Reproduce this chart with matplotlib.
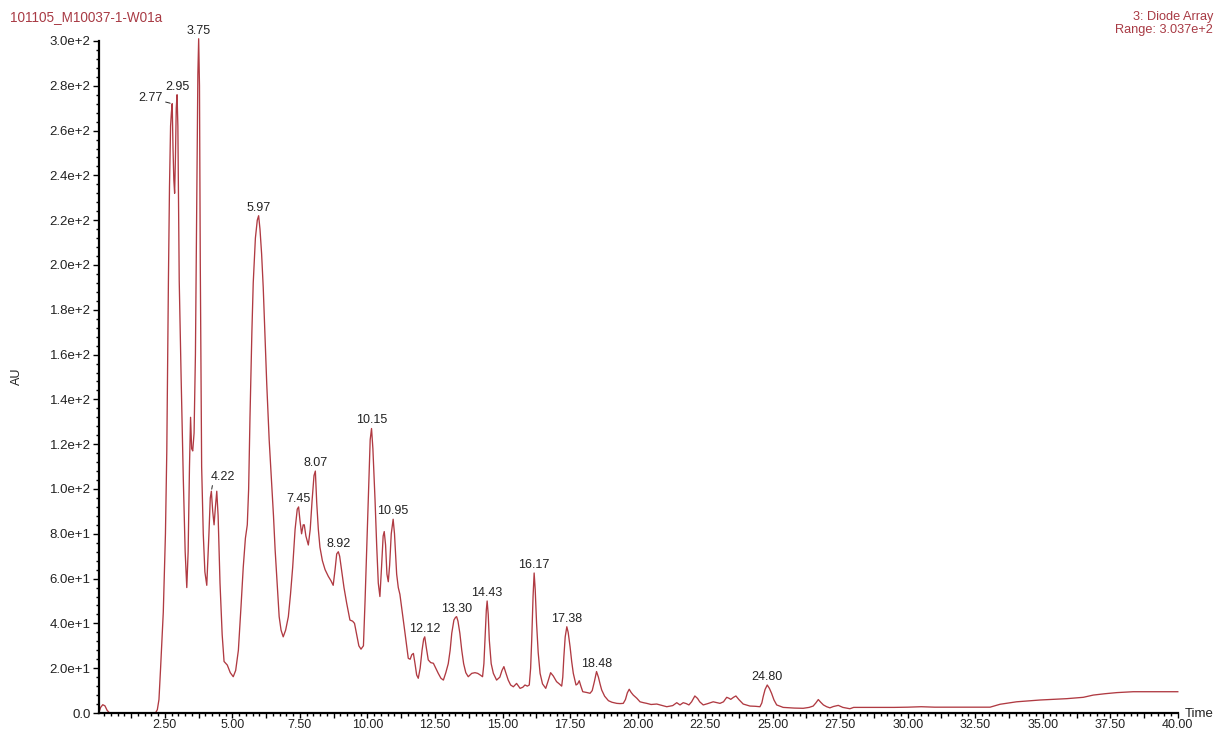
import numpy as np
import matplotlib
matplotlib.use("Agg")
import matplotlib.pyplot as plt
from matplotlib.ticker import MultipleLocator, FuncFormatter

# Chromatogram trace: retention time (min) and detector response (AU)
time_min = [
    0.06, 0.12, 0.20, 0.28, 0.36, 0.45, 1.00, 2.15, 2.22, 2.28, 2.34, 2.40, 2.44, 2.52, 2.57,
    2.63, 2.67, 2.71, 2.74, 2.77, 2.80, 2.83, 2.86, 2.89, 2.92, 2.95, 2.98, 3.03, 3.10, 3.18,
    3.25, 3.31, 3.36, 3.41, 3.45, 3.49, 3.53, 3.58, 3.63, 3.68, 3.72, 3.75, 3.78, 3.81, 3.86,
    3.92, 3.98, 4.05, 4.13, 4.18, 4.22, 4.27, 4.32, 4.37, 4.42, 4.47, 4.54, 4.62, 4.69, 4.81,
    4.92, 5.03, 5.12, 5.22, 5.32, 5.40, 5.48, 5.55, 5.60, 5.65, 5.72, 5.77, 5.85, 5.92, 5.97,
    6.02, 6.08, 6.14, 6.20, 6.27, 6.36, 6.45, 6.52, 6.58, 6.66, 6.73, 6.80, 6.88, 6.97, 7.07,
    7.15, 7.23, 7.32, 7.40, 7.45, 7.50, 7.56, 7.62, 7.66, 7.72, 7.81, 7.88, 7.95, 8.02, 8.07,
    8.12, 8.18, 8.24, 8.33, 8.43, 8.55, 8.65, 8.73, 8.80, 8.86, 8.92, 8.97, 9.04, 9.13, 9.23,
    9.35, 9.45, 9.52, 9.60, 9.68, 9.76, 9.85, 9.91, 9.97, 10.04, 10.10, 10.15, 10.20, 10.28, 10.34,
    10.40, 10.46, 10.52, 10.58, 10.62, 10.67, 10.72, 10.77, 10.82, 10.88, 10.95, 11.00, 11.08, 11.14, 11.20,
    11.30, 11.39, 11.51, 11.58, 11.64, 11.70, 11.76, 11.82, 11.88, 11.95, 12.02, 12.08, 12.12, 12.18, 12.25,
    12.34, 12.44, 12.53, 12.62, 12.72, 12.81, 12.90, 12.99, 13.06, 13.12, 13.20, 13.26, 13.30, 13.35, 13.42,
    13.49, 13.56, 13.64, 13.73, 13.80, 13.86, 13.98, 14.08, 14.17, 14.26, 14.31, 14.35, 14.40, 14.43, 14.47,
    14.51, 14.58, 14.66, 14.78, 14.90, 14.98, 15.05, 15.12, 15.21, 15.30, 15.40, 15.52, 15.65, 15.75, 15.83,
    15.92, 15.99, 16.04, 16.08, 16.13, 16.17, 16.21, 16.26, 16.32, 16.39, 16.48, 16.60, 16.68, 16.78, 16.88,
    17.00, 17.10, 17.19, 17.23, 17.27, 17.32, 17.38, 17.43, 17.50, 17.56, 17.62, 17.72, 17.78, 17.84, 17.90,
    17.97, 18.10, 18.24, 18.32, 18.40, 18.48, 18.55, 18.61, 18.67, 18.78, 18.92, 19.05, 19.23, 19.35, 19.47,
    19.55, 19.62, 19.69, 19.76, 19.84, 19.97, 20.09, 20.22, 20.34, 20.50, 20.71, 20.90, 21.08, 21.30, 21.45,
    21.57, 21.69, 21.80, 21.90, 22.00, 22.12, 22.22, 22.30, 22.43, 22.60, 22.80, 23.05, 23.18, 23.30, 23.38,
    23.45, 23.55, 23.64, 23.75, 23.91, 24.16, 24.35, 24.53, 24.60, 24.65, 24.72, 24.80, 24.88, 24.96, 25.05,
    25.15, 25.39, 25.80, 26.13, 26.35, 26.50, 26.60, 26.69, 26.78, 26.88, 27.00, 27.12, 27.25, 27.43, 27.60,
    27.86, 28.00, 29.00, 29.50, 30.00, 30.50, 31.00, 32.00, 33.05, 33.42, 34.03, 34.90, 35.89, 36.50, 36.87,
    37.30, 37.74, 38.35, 39.00, 40.00,
]
response_au = [
    0.3, 2.5, 3.7, 3.2, 1.2, 0.0, 0.0, 0.0, 1.5, 6.0, 20.0, 35.0, 45.0, 80.0, 117.0,
    193.0, 235.0, 262.0, 268.0, 272.0, 252.0, 238.0, 232.0, 248.0, 270.0, 276.0, 262.0, 193.0, 150.0, 105.0,
    72.0, 56.0, 72.0, 110.0, 132.0, 118.0, 117.0, 125.0, 160.0, 230.0, 285.0, 301.0, 280.0, 200.0, 110.0,
    80.0, 63.0, 57.0, 80.0, 96.0, 99.0, 90.0, 84.0, 92.0, 99.0, 88.0, 58.0, 35.0, 23.0, 21.4,
    18.0, 16.2, 19.0, 28.0, 48.0, 65.0, 78.0, 84.0, 100.0, 132.0, 170.0, 192.0, 212.0, 220.0, 222.0,
    216.0, 205.0, 190.0, 170.0, 147.0, 122.0, 103.0, 88.0, 73.0, 57.0, 43.0, 37.0, 34.0, 37.0, 43.0,
    53.0, 65.0, 82.0, 91.0, 92.0, 86.0, 80.0, 84.0, 84.0, 79.0, 75.0, 82.0, 95.0, 106.0, 108.0,
    94.0, 82.0, 74.0, 68.0, 64.0, 61.0, 59.0, 57.0, 64.0, 71.0, 72.0, 70.0, 64.0, 56.0, 49.0,
    41.5, 41.0, 40.0, 35.0, 30.0, 28.5, 30.0, 50.0, 73.0, 100.0, 122.0, 127.0, 118.0, 95.0, 75.0,
    58.0, 52.0, 65.0, 79.0, 81.0, 75.0, 62.0, 58.6, 66.0, 80.0, 86.5, 80.0, 62.0, 56.0, 53.0,
    44.0, 35.6, 24.4, 24.0, 26.0, 26.6, 22.0, 17.0, 15.5, 20.0, 28.0, 33.0, 34.0, 29.0, 23.7,
    22.5, 22.2, 20.0, 17.7, 15.5, 14.7, 18.0, 22.0, 28.0, 35.6, 41.5, 42.7, 43.0, 41.0, 35.6,
    28.0, 22.0, 18.0, 16.2, 17.0, 17.7, 18.0, 17.7, 17.0, 16.2, 22.0, 32.6, 46.0, 50.0, 44.0,
    32.6, 22.0, 17.7, 14.7, 16.0, 19.0, 20.7, 18.0, 14.7, 12.5, 11.7, 13.2, 11.0, 11.5, 12.5,
    12.0, 12.5, 20.0, 32.6, 52.0, 62.5, 55.0, 40.0, 27.0, 17.7, 13.0, 11.0, 14.0, 18.0, 16.5,
    14.0, 13.0, 12.0, 16.0, 25.0, 34.0, 38.5, 36.0, 29.6, 23.0, 17.7, 12.5, 13.0, 14.4, 12.0,
    9.5, 9.2, 8.8, 10.0, 14.0, 18.5, 16.0, 13.0, 10.3, 7.5, 5.5, 4.8, 4.3, 4.2, 4.3,
    6.0, 9.0, 10.6, 9.2, 8.0, 6.6, 5.0, 4.6, 4.3, 3.8, 4.0, 3.4, 2.8, 3.3, 4.6,
    3.6, 4.6, 4.2, 3.6, 5.0, 7.6, 6.5, 5.0, 3.6, 4.2, 5.0, 4.3, 5.0, 7.0, 6.6,
    6.1, 7.0, 7.6, 6.0, 4.0, 3.1, 3.0, 2.8, 4.5, 7.3, 10.5, 12.5, 11.0, 8.8, 5.8,
    3.6, 2.5, 2.2, 2.1, 2.5, 3.1, 4.5, 6.0, 4.8, 3.6, 2.8, 2.3, 2.9, 3.4, 2.5,
    1.9, 2.5, 2.5, 2.5, 2.6, 2.8, 2.6, 2.6, 2.6, 3.9, 5.0, 5.8, 6.4, 7.0, 8.0,
    8.6, 9.1, 9.5, 9.5, 9.5,
]

# Labelled peak apexes (retention times printed above the trace)
peak_labels = ["2.77", "2.95", "3.75", "4.22", "5.97", "7.45", "8.07", "8.92", "10.15",
               "10.95", "12.12", "13.30", "14.43", "16.17", "17.38", "18.48", "24.80"]

sample_name = "101105_M10037-1-W01a"
trace_name = "3: Diode Array"
range_text = "Range: 3.037e+2"
y_max = 303.7

LINE = "#b03a42"
HEADER = "#a83a44"
TEXT = "#222222"
FONT = "Liberation Sans"

plt.rcParams["font.family"] = [FONT, "DejaVu Sans"]

W, H = 1222, 732
fig = plt.figure(figsize=(W / 100, H / 100), dpi=100)
ax = fig.add_axes([99 / W, 19 / H, (1177.8 - 99) / W, 680.3 / H])

t = np.array(time_min)
au = np.array(response_au)
ax.plot(t, au, color=LINE, lw=0.95, clip_on=False, solid_joinstyle="round")

ax.set_xlim(0.06, 40.0)
ax.set_ylim(0, y_max)

for side in ("top", "right"):
    ax.spines[side].set_visible(False)
for side in ("left", "bottom"):
    ax.spines[side].set_linewidth(1.6)
    ax.spines[side].set_color("black")
ax.spines["left"].set_bounds(0, 300)

# x axis: labels every 2.5 min, long ticks every 1.25, short ticks every 0.25
ax.xaxis.set_major_locator(MultipleLocator(1.25))
ax.xaxis.set_minor_locator(MultipleLocator(0.25))


def fmt_time(v, pos):
    r = round(v / 2.5, 6)
    if v > 0.1 and abs(r - round(r)) < 1e-6:
        return f"{v:.2f}"
    return ""


ax.xaxis.set_major_formatter(FuncFormatter(fmt_time))

# y axis: labels every 20 AU in engineering notation
ax.yaxis.set_major_locator(MultipleLocator(20))
ax.yaxis.set_minor_locator(MultipleLocator(4))


def fmt_au(v, pos):
    if abs(v) < 1e-9:
        return "0.0"
    exp = int(np.floor(np.log10(abs(v)) + 1e-9))
    mant = v / 10 ** exp
    return f"{mant:.1f}e+{exp}"


ax.yaxis.set_major_formatter(FuncFormatter(fmt_au))

ax.tick_params(axis="x", which="major", direction="out", length=3.6, width=1.0,
               pad=0.8, labelsize=9, labelcolor=TEXT)
ax.tick_params(axis="x", which="minor", direction="out", length=2.3, width=1.0)
ax.tick_params(axis="y", which="major", direction="out", length=4, width=1.0,
               pad=2, labelsize=9.5, labelcolor=TEXT)
ax.tick_params(axis="y", which="minor", direction="out", length=2.5, width=1.0)

# Peak annotations
special = {
    "2.77": dict(offset=(-15.5, 4.3), leader=True, relpos=(1.0, 0.2)),
    "4.22": dict(offset=(8.1, 10.4), leader=True, relpos=(0.1, 0.0)),
}
for lab in peak_labels:
    tv = float(lab)
    idx = int(np.argmin(np.abs(t - tv)))
    yv = au[idx]
    if lab in special:
        sp = special[lab]
        ax.annotate(lab, xy=(t[idx], yv), xytext=sp["offset"], textcoords="offset points",
                    ha="center", va="center", fontsize=9, color=TEXT, annotation_clip=False,
                    arrowprops=dict(arrowstyle="-", color=TEXT, lw=0.7, shrinkA=0, shrinkB=1.5,
                                    relpos=sp["relpos"]))
    else:
        ax.annotate(lab, xy=(t[idx], yv), xytext=(0, 5.8), textcoords="offset points",
                    ha="center", va="center", fontsize=9, color=TEXT, annotation_clip=False)

# Header and axis captions
fig.text(10 / W, 1 - 17.5 / H, sample_name, ha="left", va="center", fontsize=9.75, color=HEADER)
fig.text(1213 / W, 1 - 17 / H, trace_name, ha="right", va="center", fontsize=9.2, color=HEADER)
fig.text(1213 / W, 1 - 30 / H, range_text, ha="right", va="center", fontsize=9.2, color=HEADER)
fig.text(17 / W, 1 - 376 / H, "AU", rotation=90, ha="center", va="center", fontsize=9, color=TEXT)
fig.text(1185 / W, 1 - 714 / H, "Time", ha="left", va="center", fontsize=9.5, color=TEXT)

fig.savefig("out.png", dpi=100, facecolor="white")
